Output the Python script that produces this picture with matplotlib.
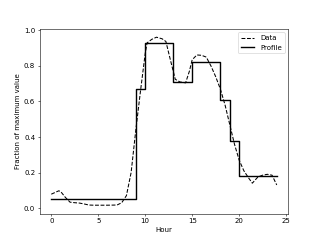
import matplotlib
matplotlib.use("Agg")
import matplotlib.pyplot as plt

data_hours = [0.0, 0.5, 0.8, 1.0, 1.5, 2.0, 2.5, 3.0, 3.5, 4.0, 4.5, 5.0, 6.0,
              7.0, 7.5, 8.0, 8.5, 9.0, 9.5, 10.0, 10.2, 10.7, 11.2, 11.8, 12.2,
              12.7, 13.2, 13.7, 14.3, 14.7, 15.0, 15.5, 16.0, 16.5, 17.0, 17.5,
              18.0, 18.5, 19.0, 19.5, 20.0, 20.5, 21.0, 21.4, 22.0, 22.5, 23.0,
              23.5, 24.0]
data_values = [0.078, 0.090, 0.097, 0.093, 0.060, 0.033, 0.030, 0.028, 0.023,
               0.017, 0.016, 0.016, 0.016, 0.017, 0.030, 0.070, 0.200, 0.440,
               0.660, 0.870, 0.930, 0.950, 0.962, 0.953, 0.938, 0.830, 0.725,
               0.710, 0.705, 0.770, 0.835, 0.862, 0.860, 0.850, 0.800, 0.740,
               0.670, 0.580, 0.470, 0.360, 0.270, 0.210, 0.170, 0.140, 0.175,
               0.185, 0.190, 0.185, 0.130]

# step profile: edges in hours, one level per interval
profile_edges = [0, 9, 10, 13, 15, 18, 19, 20, 24]
profile_levels = [0.05, 0.67, 0.93, 0.71, 0.82, 0.61, 0.38, 0.18]

fig, ax = plt.subplots(figsize=(6.4, 4.8), dpi=50)
ax.plot(data_hours, data_values, "k--", label="Data")
ax.step(profile_edges, profile_levels + profile_levels[-1:], where="post",
        color="k", lw=2, label="Profile")
ax.set_xlabel("Hour")
ax.set_ylabel("Fraction of maximum value")
ax.legend(loc="upper right")
fig.savefig("out.png", dpi=50)
